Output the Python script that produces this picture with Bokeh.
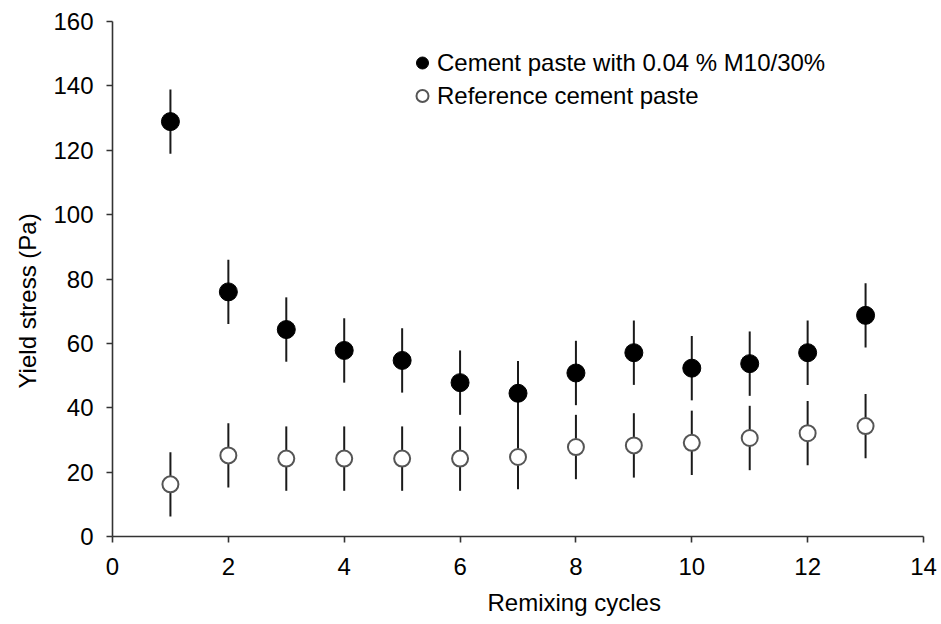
from bokeh.plotting import figure
from bokeh.models import (Range1d, FixedTicker, Legend, LegendItem, Title, ColumnDataSource)
from bokeh.embed import file_html
from bokeh.resources import INLINE

# ---- data ----
cycles = [1, 2, 3, 4, 5, 6, 7, 8, 9, 10, 11, 12, 13]
modified_stress = [128.9, 76.0, 64.3, 57.8, 54.7, 47.8, 44.5, 50.8, 57.1, 52.3, 53.7, 57.1, 68.7]
modified_err = [10, 10, 10, 10, 10, 10, 10, 10, 10, 10, 10, 10, 10]
reference_stress = [16.2, 25.2, 24.2, 24.2, 24.2, 24.2, 24.7, 27.8, 28.3, 29.1, 30.6, 32.1, 34.3]
reference_err = [10, 10, 10, 10, 10, 10, 10, 10, 10, 10, 10, 10, 10]
x_ticks = [0, 2, 4, 6, 8, 10, 12, 14]
y_ticks = [0, 20, 40, 60, 80, 100, 120, 140, 160]
series_labels = ["Cement paste with 0.04 % M10/30%", "Reference cement paste"]
x_title = "Remixing cycles"
y_title = "Yield stress (Pa)"

FONT = "Liberation Sans"
FS = "24px"

p = figure(width=941, height=624, output_backend="svg", toolbar_location=None,
           x_range=Range1d(0, 14), y_range=Range1d(0, 160),
           min_border_left=112, min_border_right=18, min_border_top=21, min_border_bottom=88)
p.outline_line_color = None
p.xgrid.visible = False
p.ygrid.visible = False
p.background_fill_color = "white"
p.border_fill_color = "white"

for ax in (p.xaxis[0], p.yaxis[0]):
    ax.axis_line_color = "#333333"
    ax.axis_line_width = 1.6
    ax.major_tick_line_color = "#333333"
    ax.major_tick_line_width = 1.6
    ax.major_tick_in = 0
    ax.major_tick_out = 6
    ax.minor_tick_line_color = None
    ax.major_label_text_font = FONT
    ax.major_label_text_font_size = FS
    ax.major_label_text_color = "black"

p.xaxis[0].ticker = FixedTicker(ticks=x_ticks)
p.yaxis[0].ticker = FixedTicker(ticks=y_ticks)
p.xaxis[0].major_label_standoff = 15
p.yaxis[0].major_label_standoff = 13

mod_src = ColumnDataSource(dict(
    x=cycles, y=modified_stress,
    lo=[v - e for v, e in zip(modified_stress, modified_err)],
    hi=[v + e for v, e in zip(modified_stress, modified_err)]))
ref_src = ColumnDataSource(dict(
    x=cycles, y=reference_stress,
    lo=[v - e for v, e in zip(reference_stress, reference_err)],
    hi=[v + e for v, e in zip(reference_stress, reference_err)]))

p.segment(x0="x", y0="lo", x1="x", y1="hi", source=mod_src, line_color="#1a1a1a", line_width=2)
p.segment(x0="x", y0="lo", x1="x", y1="hi", source=ref_src, line_color="#1a1a1a", line_width=2)

r_mod = p.scatter("x", "y", source=mod_src, marker="circle", size=18,
                  fill_color="black", line_color="black", line_width=1)
r_ref = p.scatter("x", "y", source=ref_src, marker="circle", size=16,
                  fill_color="white", line_color="#555555", line_width=2)

legend = Legend(items=[LegendItem(label=series_labels[0], renderers=[r_mod]),
                       LegendItem(label=series_labels[1], renderers=[r_ref])],
                location=(295, 424), orientation="vertical",
                glyph_width=30, glyph_height=33, spacing=0, padding=0, margin=0,
                label_standoff=0, label_text_font=FONT, label_text_font_size=FS,
                label_text_color="black", label_height=33,
                border_line_color=None, background_fill_alpha=0)
p.add_layout(legend)

p.add_layout(Title(text=x_title, align="left", offset=375, standoff=18,
                   text_font=FONT, text_font_size=FS, text_font_style="normal",
                   text_color="black"), "below")
p.add_layout(Title(text=y_title, align="left", offset=148, standoff=20,
                   text_font=FONT, text_font_size=FS, text_font_style="normal",
                   text_color="black"), "left")

open("out.html", "w").write(file_html(p, INLINE))
